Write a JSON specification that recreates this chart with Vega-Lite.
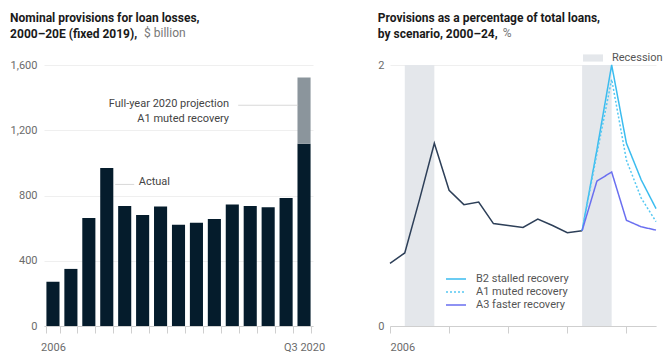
{
  "$schema": "https://vega.github.io/schema/vega-lite/v6.json",
  "padding": {"left": 10, "top": 12, "right": 0, "bottom": 0},
  "spacing": 52,
  "resolve": {"legend": {"fill": "independent", "stroke": "independent", "strokeDash": "independent", "color": "independent"}},
  "datasets": {
    "provisions": [
      {"period": "2006", "part": "Actual", "value": 272},
      {"period": "2007", "part": "Actual", "value": 350},
      {"period": "2008", "part": "Actual", "value": 662},
      {"period": "2009", "part": "Actual", "value": 969},
      {"period": "2010", "part": "Actual", "value": 736},
      {"period": "2011", "part": "Actual", "value": 680},
      {"period": "2012", "part": "Actual", "value": 732},
      {"period": "2013", "part": "Actual", "value": 621},
      {"period": "2014", "part": "Actual", "value": 633},
      {"period": "2015", "part": "Actual", "value": 656},
      {"period": "2016", "part": "Actual", "value": 745},
      {"period": "2017", "part": "Actual", "value": 736},
      {"period": "2018", "part": "Actual", "value": 728},
      {"period": "2019", "part": "Actual", "value": 785},
      {"period": "Q3 2020", "part": "Actual", "value": 1118},
      {"period": "Q3 2020", "part": "Projection", "value": 405}
    ],
    "notesRight": [
      {"period": "2016", "value": 1340, "label": "Full-year 2020 projection\nA1 muted recovery"}
    ],
    "notesLeft": [
      {"period": "2011", "value": 880, "label": "Actual"}
    ],
    "leaders": [
      {"period": "2010", "value": 868, "length": "short"},
      {"period": "2018", "value": 1354, "length": "long"}
    ],
    "recessions": [
      {"start": 2007, "end": 2009, "label": "Recession"},
      {"start": 2019, "end": 2021, "label": "Recession"}
    ],
    "ratio": [
      {"year": 2006, "series": "Actual", "value": 0.48},
      {"year": 2007, "series": "Actual", "value": 0.56},
      {"year": 2008, "series": "Actual", "value": 0.97},
      {"year": 2009, "series": "Actual", "value": 1.40},
      {"year": 2010, "series": "Actual", "value": 1.04},
      {"year": 2011, "series": "Actual", "value": 0.93},
      {"year": 2012, "series": "Actual", "value": 0.95},
      {"year": 2013, "series": "Actual", "value": 0.785},
      {"year": 2014, "series": "Actual", "value": 0.77},
      {"year": 2015, "series": "Actual", "value": 0.755},
      {"year": 2016, "series": "Actual", "value": 0.82},
      {"year": 2017, "series": "Actual", "value": 0.77},
      {"year": 2018, "series": "Actual", "value": 0.715},
      {"year": 2019, "series": "Actual", "value": 0.73},
      {"year": 2019, "series": "B2 stalled recovery", "value": 0.73},
      {"year": 2020, "series": "B2 stalled recovery", "value": 1.35},
      {"year": 2021, "series": "B2 stalled recovery", "value": 2.0},
      {"year": 2022, "series": "B2 stalled recovery", "value": 1.40},
      {"year": 2023, "series": "B2 stalled recovery", "value": 1.12},
      {"year": 2024, "series": "B2 stalled recovery", "value": 0.90},
      {"year": 2019, "series": "A1 muted recovery", "value": 0.73},
      {"year": 2020, "series": "A1 muted recovery", "value": 1.32},
      {"year": 2021, "series": "A1 muted recovery", "value": 1.89},
      {"year": 2022, "series": "A1 muted recovery", "value": 1.27},
      {"year": 2023, "series": "A1 muted recovery", "value": 0.98},
      {"year": 2024, "series": "A1 muted recovery", "value": 0.80},
      {"year": 2019, "series": "A3 faster recovery", "value": 0.73},
      {"year": 2020, "series": "A3 faster recovery", "value": 1.11},
      {"year": 2021, "series": "A3 faster recovery", "value": 1.18},
      {"year": 2022, "series": "A3 faster recovery", "value": 0.81},
      {"year": 2023, "series": "A3 faster recovery", "value": 0.76},
      {"year": 2024, "series": "A3 faster recovery", "value": 0.735}
    ]
  },
  "hconcat": [
    {
      "width": 269,
      "height": 261,
      "title": {
        "text": ["Nominal provisions for loan losses,", "2000–20E (fixed 2019),"],
        "subtitle": "\u200b\u00a0\u00a0\u00a0\u00a0\u00a0\u00a0\u00a0\u00a0\u00a0\u00a0\u00a0\u00a0\u00a0\u00a0\u00a0\u00a0\u00a0\u00a0\u00a0\u00a0\u00a0\u00a0\u00a0\u00a0\u00a0\u00a0\u00a0\u00a0\u00a0\u00a0\u00a0\u00a0\u00a0\u00a0\u00a0\u00a0\u00a0\u00a0\u00a0\u00a0\u00a0\u00a0\u00a0\u00a0\u00a0$ billion",
        "anchor": "start",
        "frame": "bounds",
        "offset": 18
      },
      "layer": [
        {
          "data": {"name": "provisions"},
          "mark": {"type": "bar"},
          "encoding": {
            "x": {
              "field": "period", "type": "ordinal", "sort": null,
              "scale": {"paddingInner": 0.27, "paddingOuter": 0.135},
              "axis": {
                "tickBand": "extent",
                "labelExpr": "datum.value == '2006' || datum.value == 'Q3 2020' ? datum.value : ''",
                "labelAngle": 0, "tickSize": 7, "labelPadding": 8, "grid": false
              }
            },
            "y": {
              "field": "value", "type": "quantitative", "stack": "zero",
              "scale": {"domain": [0, 1600]},
              "axis": {
                "values": [0, 200, 400, 600, 800, 1000, 1200, 1400, 1600],
                "labelExpr": "datum.value % 400 == 0 ? format(datum.value, ',') : ''",
                "domain": false, "ticks": false, "labelPadding": 7
              }
            },
            "color": {
              "field": "part", "type": "nominal",
              "scale": {"domain": ["Actual", "Projection"], "range": ["#051c2c", "#8b959c"]},
              "legend": null
            },
            "order": {"field": "part", "sort": "ascending"}
          }
        },
        {
          "data": {"name": "leaders"},
          "transform": [{"filter": "datum.length == 'short'"}],
          "mark": {"type": "tick", "size": 19, "thickness": 1, "color": "#c8c8c8"},
          "encoding": {
            "x": {"field": "period", "type": "ordinal"},
            "y": {"field": "value", "type": "quantitative"}
          }
        },
        {
          "data": {"name": "leaders"},
          "transform": [{"filter": "datum.length == 'long'"}],
          "mark": {"type": "tick", "size": 60, "thickness": 1, "color": "#c8c8c8"},
          "encoding": {
            "x": {"field": "period", "type": "ordinal"},
            "y": {"field": "value", "type": "quantitative"}
          }
        },
        {
          "data": {"name": "notesRight"},
          "mark": {"type": "text", "align": "right", "baseline": "alphabetic", "lineBreak": "\n", "lineHeight": 15, "fontSize": 11, "color": "#444"},
          "encoding": {
            "x": {"field": "period", "type": "ordinal", "bandPosition": 0.25},
            "y": {"field": "value", "type": "quantitative"},
            "text": {"field": "label"}
          }
        },
        {
          "data": {"name": "notesLeft"},
          "mark": {"type": "text", "align": "left", "baseline": "middle", "fontSize": 11, "color": "#444"},
          "encoding": {
            "x": {"field": "period", "type": "ordinal", "bandPosition": 0.2},
            "y": {"field": "value", "type": "quantitative"},
            "text": {"field": "label"}
          }
        }
      ]
    },
    {
      "width": 266,
      "height": 261,
      "title": {
        "text": ["Provisions as a percentage of total loans,", "by scenario, 2000–24,"],
        "subtitle": "\u200b\u00a0\u00a0\u00a0\u00a0\u00a0\u00a0\u00a0\u00a0\u00a0\u00a0\u00a0\u00a0\u00a0\u00a0\u00a0\u00a0\u00a0\u00a0\u00a0\u00a0\u00a0\u00a0\u00a0\u00a0\u00a0\u00a0\u00a0\u00a0\u00a0\u00a0\u00a0\u00a0\u00a0\u00a0\u00a0\u00a0\u00a0\u00a0\u00a0\u00a0\u00a0\u00a0%",
        "anchor": "start",
        "frame": "bounds",
        "offset": 7
      },
      "layer": [
        {
          "data": {"name": "recessions"},
          "mark": {"type": "rect"},
          "encoding": {
            "x": {
              "field": "start", "type": "quantitative",
              "scale": {"domain": [2006, 2024], "nice": false, "zero": false},
              "axis": {
                "values": [2006, 2007, 2008, 2009, 2010, 2011, 2012, 2013, 2014, 2015, 2016, 2017, 2018, 2019, 2020, 2021, 2022, 2023, 2024],
                "format": "d",
                "labelExpr": "datum.value == 2006 || datum.value == 2024 ? datum.label : ''",
                "tickSize": 7, "labelPadding": 8, "grid": false
              }
            },
            "x2": {"field": "end"},
            "fill": {
              "field": "label", "type": "nominal",
              "scale": {"range": ["#e4e7eb"]},
              "legend": {
                "orient": "none", "legendX": 193, "legendY": -17, "title": null,
                "symbolType": "M-1,-0.36H1V0.36H-1Z", "symbolSize": 400,
                "labelFontSize": 11, "labelColor": "#555", "symbolStrokeWidth": 0,
                "labelOffset": 9
              }
            }
          }
        },
        {
          "data": {"name": "ratio"},
          "transform": [{"filter": "datum.series == 'Actual'"}],
          "mark": {"type": "line", "stroke": "#2d3f58", "strokeWidth": 1.5},
          "encoding": {
            "x": {"field": "year", "type": "quantitative"},
            "y": {
              "field": "value", "type": "quantitative",
              "scale": {"domain": [0, 2]},
              "axis": {
                "values": [0, 0.5, 1, 1.5, 2],
                "format": "d",
                "labelExpr": "datum.value % 1 == 0 ? datum.label : ''",
                "domain": false, "ticks": false, "labelPadding": 6
              }
            }
          }
        },
        {
          "data": {"name": "ratio"},
          "transform": [{"filter": "datum.series != 'Actual'"}],
          "mark": {"type": "line", "strokeWidth": 1.5},
          "encoding": {
            "x": {"field": "year", "type": "quantitative"},
            "y": {"field": "value", "type": "quantitative"},
            "stroke": {
              "field": "series", "type": "nominal",
              "scale": {"domain": ["B2 stalled recovery", "A1 muted recovery", "A3 faster recovery"], "range": ["#3bbcef", "#55c8f2", "#6a6ff0"]},
              "legend": {
                "orient": "none", "legendX": 60, "legendY": 208, "title": null,
                "symbolType": "M-2,0H2", "symbolSize": 100, "symbolStrokeWidth": 1.5,
                "labelFontSize": 11, "labelColor": "#555", "rowPadding": 2, "labelOffset": 14
              }
            },
            "strokeDash": {
              "field": "series", "type": "nominal",
              "scale": {"domain": ["B2 stalled recovery", "A1 muted recovery", "A3 faster recovery"], "range": [[1, 0], [2, 2], [1, 0]]},
              "legend": {
                "orient": "none", "legendX": 60, "legendY": 208, "title": null,
                "symbolType": "M-2,0H2", "symbolSize": 100, "symbolStrokeWidth": 1.5,
                "labelFontSize": 11, "labelColor": "#555", "rowPadding": 2, "labelOffset": 14
              }
            }
          }
        }
      ]
    }
  ],
  "config": {
    "font": "Roboto",
    "view": {"stroke": null},
    "axis": {
      "title": null,
      "labelFont": "Roboto", "labelFontSize": 11, "labelColor": "#6b6b6b",
      "gridColor": "#efefef", "domainColor": "#cfcfcf", "tickColor": "#cfcfcf"
    },
    "legend": {"labelFont": "Roboto"},
    "title": {
      "font": "Roboto", "fontSize": 12, "fontWeight": "bold", "color": "#1a1a1a",
      "lineHeight": 16,
      "subtitleFont": "Roboto", "subtitleFontSize": 12, "subtitleColor": "#777777",
      "subtitleFontWeight": "normal", "subtitlePadding": -13
    }
  }
}
